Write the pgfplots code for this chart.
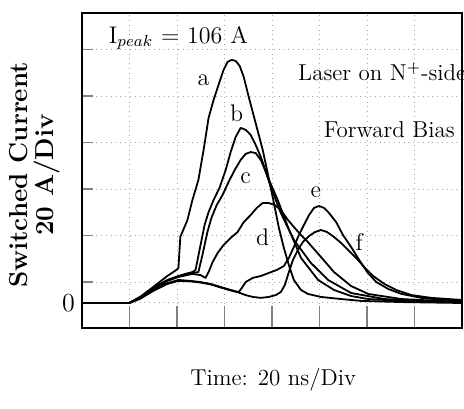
\documentclass[border=0pt]{standalone}
\usepackage{pgfplots}
\pgfplotsset{compat=1.18}
\usetikzlibrary{calc}
\begin{document}
\begin{tikzpicture}
\begin{axis}[
  scale only axis, width=190pt, height=157.5pt,
  xmin=0, xmax=160, ymin=-10.75, ymax=124.7,
  axis line style={line width=1pt},
  clip mode=individual,
  tick align=inside, xtick pos=bottom, ytick pos=left,
  major tick length=5.5pt,
  xtick={20,40,...,140}, xticklabels={},
  xtick style={/pgfplots/major tick length=11pt, line width=0.8pt},
  ytick={0,9,29,49,69,89,109}, yticklabels={0,,,,,,},
  ytick style={line width=0.8pt},
  yticklabel style={font=\fontsize{13}{13}\selectfont},
  grid=major, major grid style={dotted, gray!70, line width=0.5pt},
  xlabel={Time: 20 ns/Div},
  xlabel style={at={(rel axis cs:0.503,-0.165)}, anchor=center, font=\fontsize{11.5}{14}\selectfont},
  ylabel={Switched Current\\20 A/Div},
  ylabel style={at={(rel axis cs:-0.124,0.486)}, anchor=center, align=center, font=\fontsize{13}{13}\selectfont\bfseries},
  cycle list={{black, no markers}},
  every axis plot post/.append style={black, line width=0.9pt, line join=round},
]
% a
\addplot coordinates {(0,0)(19.9,0)(24.5,2.6)(30.0,6.9)(35.9,11.6)(39.7,14.2)(40.6,15.1)(41.4,28.4)(44.4,35.7)(46.5,44.3)(49.0,52.9)(51.2,65.8)(53.3,79.6)(55.4,87.3)(57.5,93.8)(59.6,100.2)(61.3,103.7)(63.0,104.5)(64.7,104.1)(66.4,101.9)(68.1,97.2)(70.2,88.6)(73.1,77.4)(76.1,65.8)(78.6,53.8)(80.8,43.0)(82.9,32.3)(85.0,23.7)(87.1,16.3)(89.2,9.9)(92.2,5.6)(95.1,3.9)(100.6,2.6)(109.1,1.7)(117.5,0.9)(134.5,0.4)(160,0)};
% b
\addplot coordinates {(0,0)(19.9,0)(24.5,2.6)(30.0,6.5)(35.9,9.9)(40.6,11.6)(43.5,12.5)(46.5,13.3)(47.8,14.2)(49.5,22.8)(51.6,33.5)(53.3,39.1)(55.4,44.3)(57.9,49.5)(60.5,57.2)(62.6,64.9)(64.7,71.4)(66.8,75.3)(69.0,74.4)(71.0,72.3)(73.1,68.0)(75.3,62.8)(78.2,54.2)(82.4,44.3)(86.7,32.7)(92.2,19.4)(99.4,9.9)(106.1,5.6)(113.3,3.0)(120.5,1.7)(134.5,0.9)(160,0.4)};
% c
\addplot coordinates {(0,0)(19.9,0)(24.5,2.4)(30.0,6.3)(35.9,9.7)(40.6,11.4)(43.5,12.3)(46.5,12.9)(49.0,13.3)(50.7,20.6)(52.8,30.5)(54.5,36.6)(56.7,42.1)(59.2,46.5)(61.7,52.0)(64.3,57.2)(66.8,61.5)(68.9,64.1)(71.0,64.9)(73.1,64.5)(75.3,61.5)(77.4,56.3)(79.5,49.9)(83.7,38.7)(89.2,27.1)(96.4,17.2)(103.6,9.9)(113.3,4.3)(127.3,1.7)(142.9,0.9)(160,0.4)};
% d
\addplot coordinates {(0,0)(19.9,0)(24.5,2.2)(30.0,6.0)(35.9,9.5)(40.6,11.2)(46.5,12.5)(49.9,12.0)(52.0,10.8)(53.3,13.3)(55.0,17.6)(57.1,21.5)(59.6,24.9)(62.6,28.0)(65.5,30.5)(68.1,34.8)(71.0,37.8)(73.6,40.9)(76.1,43.0)(78.6,43.0)(81.2,42.1)(83.7,40.0)(86.7,35.7)(89.2,32.7)(92.2,29.2)(95.1,26.2)(100.6,19.8)(106.1,13.3)(113.3,7.3)(120.5,3.9)(134.5,1.7)(160,0.4)};
% e
\addplot coordinates {(0,0)(19.9,0)(24.5,2.0)(30.0,5.5)(35.9,8.5)(40.6,9.9)(45.7,9.5)(49.9,9.0)(54.1,8.2)(58.3,6.9)(62.6,5.6)(66.0,4.7)(67.3,6.5)(68.9,9.0)(71.9,10.8)(75.3,11.6)(78.6,12.9)(82.0,14.2)(85.0,15.9)(87.1,19.4)(89.2,24.1)(91.3,29.2)(93.4,33.5)(95.6,37.8)(97.7,40.9)(99.8,41.7)(101.9,40.9)(104.0,38.7)(107.0,34.8)(109.9,29.2)(113.3,24.1)(116.7,18.5)(120.1,13.3)(123.9,9.0)(129.0,6.0)(134.5,3.9)(142.9,2.2)(151.4,1.3)(160,0.9)};
% f
\addplot coordinates {(0,0)(19.9,0)(24.5,1.8)(30.0,5.2)(35.9,8.2)(40.6,9.5)(45.7,9.3)(49.9,8.8)(54.1,8.0)(58.3,6.7)(62.6,5.4)(66.0,4.5)(68.9,3.4)(71.9,2.6)(75.3,2.2)(78.6,2.6)(81.6,3.4)(83.7,4.7)(85.4,7.7)(87.1,13.3)(88.8,18.5)(90.9,22.8)(93.0,26.2)(95.6,28.8)(98.1,30.5)(100.6,31.4)(103.2,30.5)(106.1,28.4)(109.1,25.8)(112.0,22.8)(115.4,19.4)(118.8,15.5)(122.6,11.6)(127.3,8.2)(132.3,5.6)(138.7,3.4)(147.1,2.2)(160,1.3)};
\node[font=\large] at (axis cs:40.6,114) {I$_{peak}$ = 106 A};
\node[font=\fontsize{11.5}{13}\selectfont] at (axis cs:126.4,99.4) {Laser on N$^{+}$-side};
\node[font=\fontsize{11.5}{13}\selectfont] at (axis cs:129.4,74.4) {Forward Bias};
\node[font=\large] at (axis cs:51.2,95.9) {a};
\node[font=\large] at (axis cs:65.1,81.7) {b};
\node[font=\large] at (axis cs:68.9,53.8) {c};
\node[font=\large] at (axis cs:76.1,28.4) {d};
\node[font=\large] at (axis cs:98.5,47.7) {e};
\node[font=\large] at (axis cs:116.7,26.2) {f};
\coordinate (bl) at (rel axis cs:0,0);
\coordinate (tr) at (rel axis cs:1,1);
\end{axis}
\pgfresetboundingbox
\path ($(bl)+(-41pt,-40.5pt)$) rectangle ($(tr)+(1pt,6.5pt)$);
\end{tikzpicture}
\end{document}
